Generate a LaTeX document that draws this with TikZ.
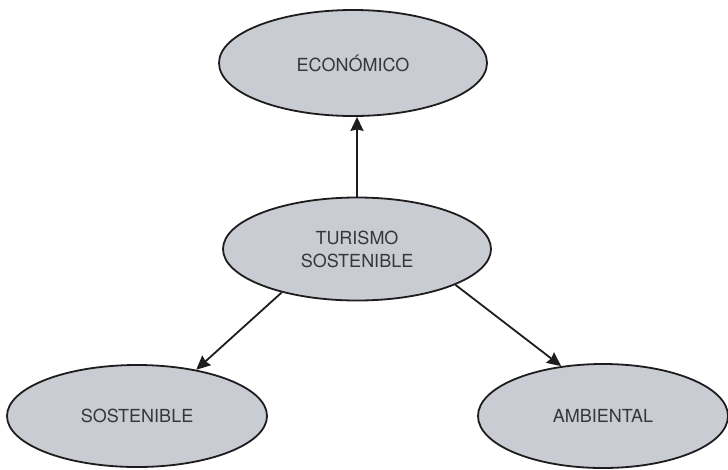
\documentclass[tikz,border=0pt]{standalone}
\usepackage{fontspec}
\setmainfont{TeX Gyre Heros}
\usepackage{xcolor}
\usepackage{tikz}
\usetikzlibrary{arrows.meta,shapes.geometric,positioning}
\definecolor{ovalFill}{RGB}{201,204,211}
\definecolor{ovalLine}{RGB}{30,28,28}
\definecolor{labelGray}{RGB}{55,55,58}
\tikzset{
  ovalnode/.style={
    ellipse, draw=ovalLine, line width=1.8pt, fill=ovalFill,
    inner sep=0pt, align=center, text=labelGray,
    font=\fontsize{18}{23}\selectfont
  },
  linkArrow/.style={-{Stealth[length=14pt,width=13pt,inset=1.5pt]}, line width=1.8pt, color=ovalLine}
}
\begin{document}
\begin{tikzpicture}[x=1pt, y=-1pt]
        \useasboundingbox (0,0) rectangle (728,469);
        \node[ovalnode, minimum width=268pt, minimum height=106pt] (eco)
          at (353,63) {ECONÓMICO};
        \node[ovalnode, minimum width=268pt, minimum height=103pt] (tur)
          at (357,249) {TURISMO\\SOSTENIBLE};
        \node[ovalnode, minimum width=260pt, minimum height=102pt] (sost)
          at (137,416) {SOSTENIBLE};
        \node[ovalnode, minimum width=250pt, minimum height=104pt] (amb)
          at (603,416) {AMBIENTAL};
        % connectors
        \draw[linkArrow] (tur.north) -- (tur.north |- eco.south);
        \draw[linkArrow] (tur.210) -- (sost.38);
        \draw[linkArrow] (tur.340) -- (amb.130);
      \end{tikzpicture}
\end{document}
